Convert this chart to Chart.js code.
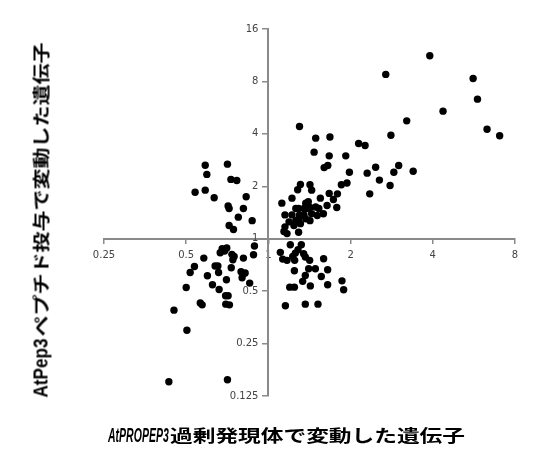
<!DOCTYPE html>
<html><head><meta charset="utf-8">
<script src="https://cdn.jsdelivr.net/npm/chart.js@4/dist/chart.umd.min.js"></script>
<style>
html,body{margin:0;padding:0;background:#fff;}
#wrap{position:relative;width:550px;height:462px;overflow:hidden;}
canvas{position:absolute;left:0;top:0;}
.tbox{position:absolute;height:20px;}
.tbox span{position:absolute;top:0;line-height:20px;white-space:nowrap;color:#000;font-weight:bold;transform-origin:0 50%;}
.lat{font-family:"Liberation Sans",Arial,sans-serif;font-size:20px;}
.cjk{font-family:"Noto Sans CJK JP",sans-serif;font-size:17px;}
#xt{left:108px;top:425px;width:357px;}
#yt{left:-137px;top:210px;width:355px;transform:rotate(-90deg);}
</style></head>
<body><div id="wrap"><canvas id="c" width="550" height="462"></canvas>
<div class="tbox" id="xt"><span class="lat" data-l="0" data-w="61"><i>AtPROPEP3</i></span><span class="cjk" data-l="62" data-w="295">過剰発現体で変動した遺伝子</span></div>
<div class="tbox" id="yt"><span class="lat" data-l="0" data-w="59">AtPep3</span><span class="cjk" data-l="61" data-w="294">ペプチド投与で変動した遺伝子</span></div>
</div>
<script>
const xTickValues = [0.25, 0.5, 1, 2, 4, 8];
const yTickValues = [0.125, 0.25, 0.5, 1, 2, 4, 8, 16];

// AtPROPEP3 overexpression fold change (x) vs AtPep3 treatment fold change (y)
const foldOverexpression = [
  3.90,2.69,5.62,5.83,4.36,3.21,6.32,7.03,2.81,1.30,1.49,1.68,2.14,2.26,1.47,1.67,1.92,1.60,1.65,2.47,3.00,1.98,2.30,2.88,3.39,2.55,2.79,1.85,1.94,2.35,1.67,1.79,1.73,1.78,
  1.12,1.22,1.28,1.31,1.42,1.44,1.37,1.40,1.55,1.26,1.29,1.35,1.39,1.42,1.49,1.53,1.15,1.22,1.30,1.35,1.44,1.51,1.59,1.64,1.19,1.26,1.29,1.37,1.42,1.15,1.24,1.31,1.14,1.17,1.29,
  0.587,0.595,0.708,0.729,0.766,0.539,0.587,0.633,0.829,0.712,0.718,0.810,0.776,0.872,0.718,0.745,
  0.889,0.882,0.810,0.749,0.741,0.735,0.704,0.677,0.666,0.691,0.580,0.536,0.517,0.598,0.638,0.653,0.657,0.731,0.794,0.810,0.801,0.822,0.854,0.702,0.624,0.660,0.500,0.697,0.712,0.698,0.720,0.563,0.572,0.451,0.503,0.432,0.708,
  1.203,1.320,1.284,1.106,1.255,1.346,1.128,1.170,1.248,1.228,1.365,1.416,1.593,1.245,1.404,1.486,1.648,1.365,1.562,1.335,1.424,1.648,1.860,1.886,1.197,1.245,1.154,1.365,1.519
];
const foldPep3Treatment = [
  11.24,8.78,8.32,6.33,5.40,4.75,4.25,3.90,3.93,4.41,3.78,3.84,3.52,3.43,3.14,2.99,2.99,2.56,2.63,2.57,2.63,2.41,2.38,2.41,2.44,2.17,2.02,2.04,2.09,1.81,1.82,1.81,1.68,1.51,
  1.60,1.71,1.91,2.05,2.04,1.90,1.60,1.63,1.71,1.49,1.49,1.49,1.49,1.51,1.52,1.49,1.37,1.37,1.37,1.37,1.39,1.36,1.39,1.55,1.25,1.27,1.30,1.30,1.27,1.17,1.19,1.22,1.10,1.07,1.09,
  2.64,2.34,2.68,2.19,2.16,1.85,1.90,1.72,1.74,1.54,1.49,1.49,1.33,1.27,1.19,1.13,
  0.908,0.809,0.774,0.791,0.757,0.813,0.884,0.876,0.830,0.849,0.774,0.693,0.640,0.613,0.697,0.697,0.640,0.681,0.646,0.629,0.597,0.635,0.556,0.581,0.544,0.511,0.525,0.470,0.470,0.421,0.417,0.428,0.417,0.389,0.298,0.151,0.155,
  0.923,0.923,0.865,0.835,0.827,0.820,0.764,0.751,0.751,0.791,0.785,0.751,0.767,0.655,0.672,0.672,0.663,0.615,0.607,0.569,0.536,0.544,0.573,0.509,0.527,0.527,0.412,0.421,0.421
];

const points = foldOverexpression.map((x, i) => ({x: x, y: foldPep3Treatment[i]}));

// fit title pieces to their measured widths in the reference (untransformed layout width)
document.querySelectorAll('.tbox span').forEach(sp => {
  const w = sp.offsetWidth;
  sp.style.left = sp.dataset.l + 'px';
  sp.style.transform = 'scaleX(' + (parseFloat(sp.dataset.w) / w) + ')';
});

const axisGray = '#8a8a8a';
const tickFont = {family: '"DejaVu Sans", Verdana, sans-serif', size: 10};

// y labels of an axis placed at a data value are right-aligned on the axis line; move them left of the tick marks
const yLabelGap = {
  id: 'yLabelGap',
  beforeDraw(chart) {
    const items = chart.scales.y.getLabelItems();
    if (!items._gap) {
      items.forEach(it => { it.options.translation[0] -= 10; });
      items._gap = true;
    }
  }
};

new Chart(document.getElementById('c'), {
  type: 'scatter',
  data: {datasets: [{data: points, backgroundColor: '#000', borderColor: '#000', borderWidth: 0, pointRadius: 3.7, pointHoverRadius: 3.7}]},
  options: {
    responsive: false, animation: false,
    layout: {padding: {left: 104, right: 35, top: 29, bottom: 66}},
    plugins: {legend: {display: false}, tooltip: {enabled: false}},
    scales: {
      x: {
        type: 'logarithmic', min: 0.25, max: 8, position: {y: 1},
        afterBuildTicks: s => { s.ticks = xTickValues.map(v => ({value: v})); },
        ticks: {callback: v => String(v), color: '#444', font: tickFont, padding: 7, maxRotation: 0, autoSkip: false},
        grid: {drawOnChartArea: false, drawTicks: true, tickLength: 4, color: axisGray, lineWidth: 1.5},
        border: {display: true, color: axisGray, width: 2}
      },
      y: {
        type: 'logarithmic', min: 0.125, max: 16, position: {x: 1},
        afterBuildTicks: s => { s.ticks = yTickValues.map(v => ({value: v})); },
        ticks: {callback: v => String(v), color: '#444', font: tickFont, autoSkip: false},
        grid: {drawOnChartArea: false, drawTicks: true, tickLength: 5, color: axisGray, lineWidth: 1.5},
        border: {display: true, color: axisGray, width: 2}
      }
    }
  },
  plugins: [yLabelGap]
});
</script>
</body></html>
